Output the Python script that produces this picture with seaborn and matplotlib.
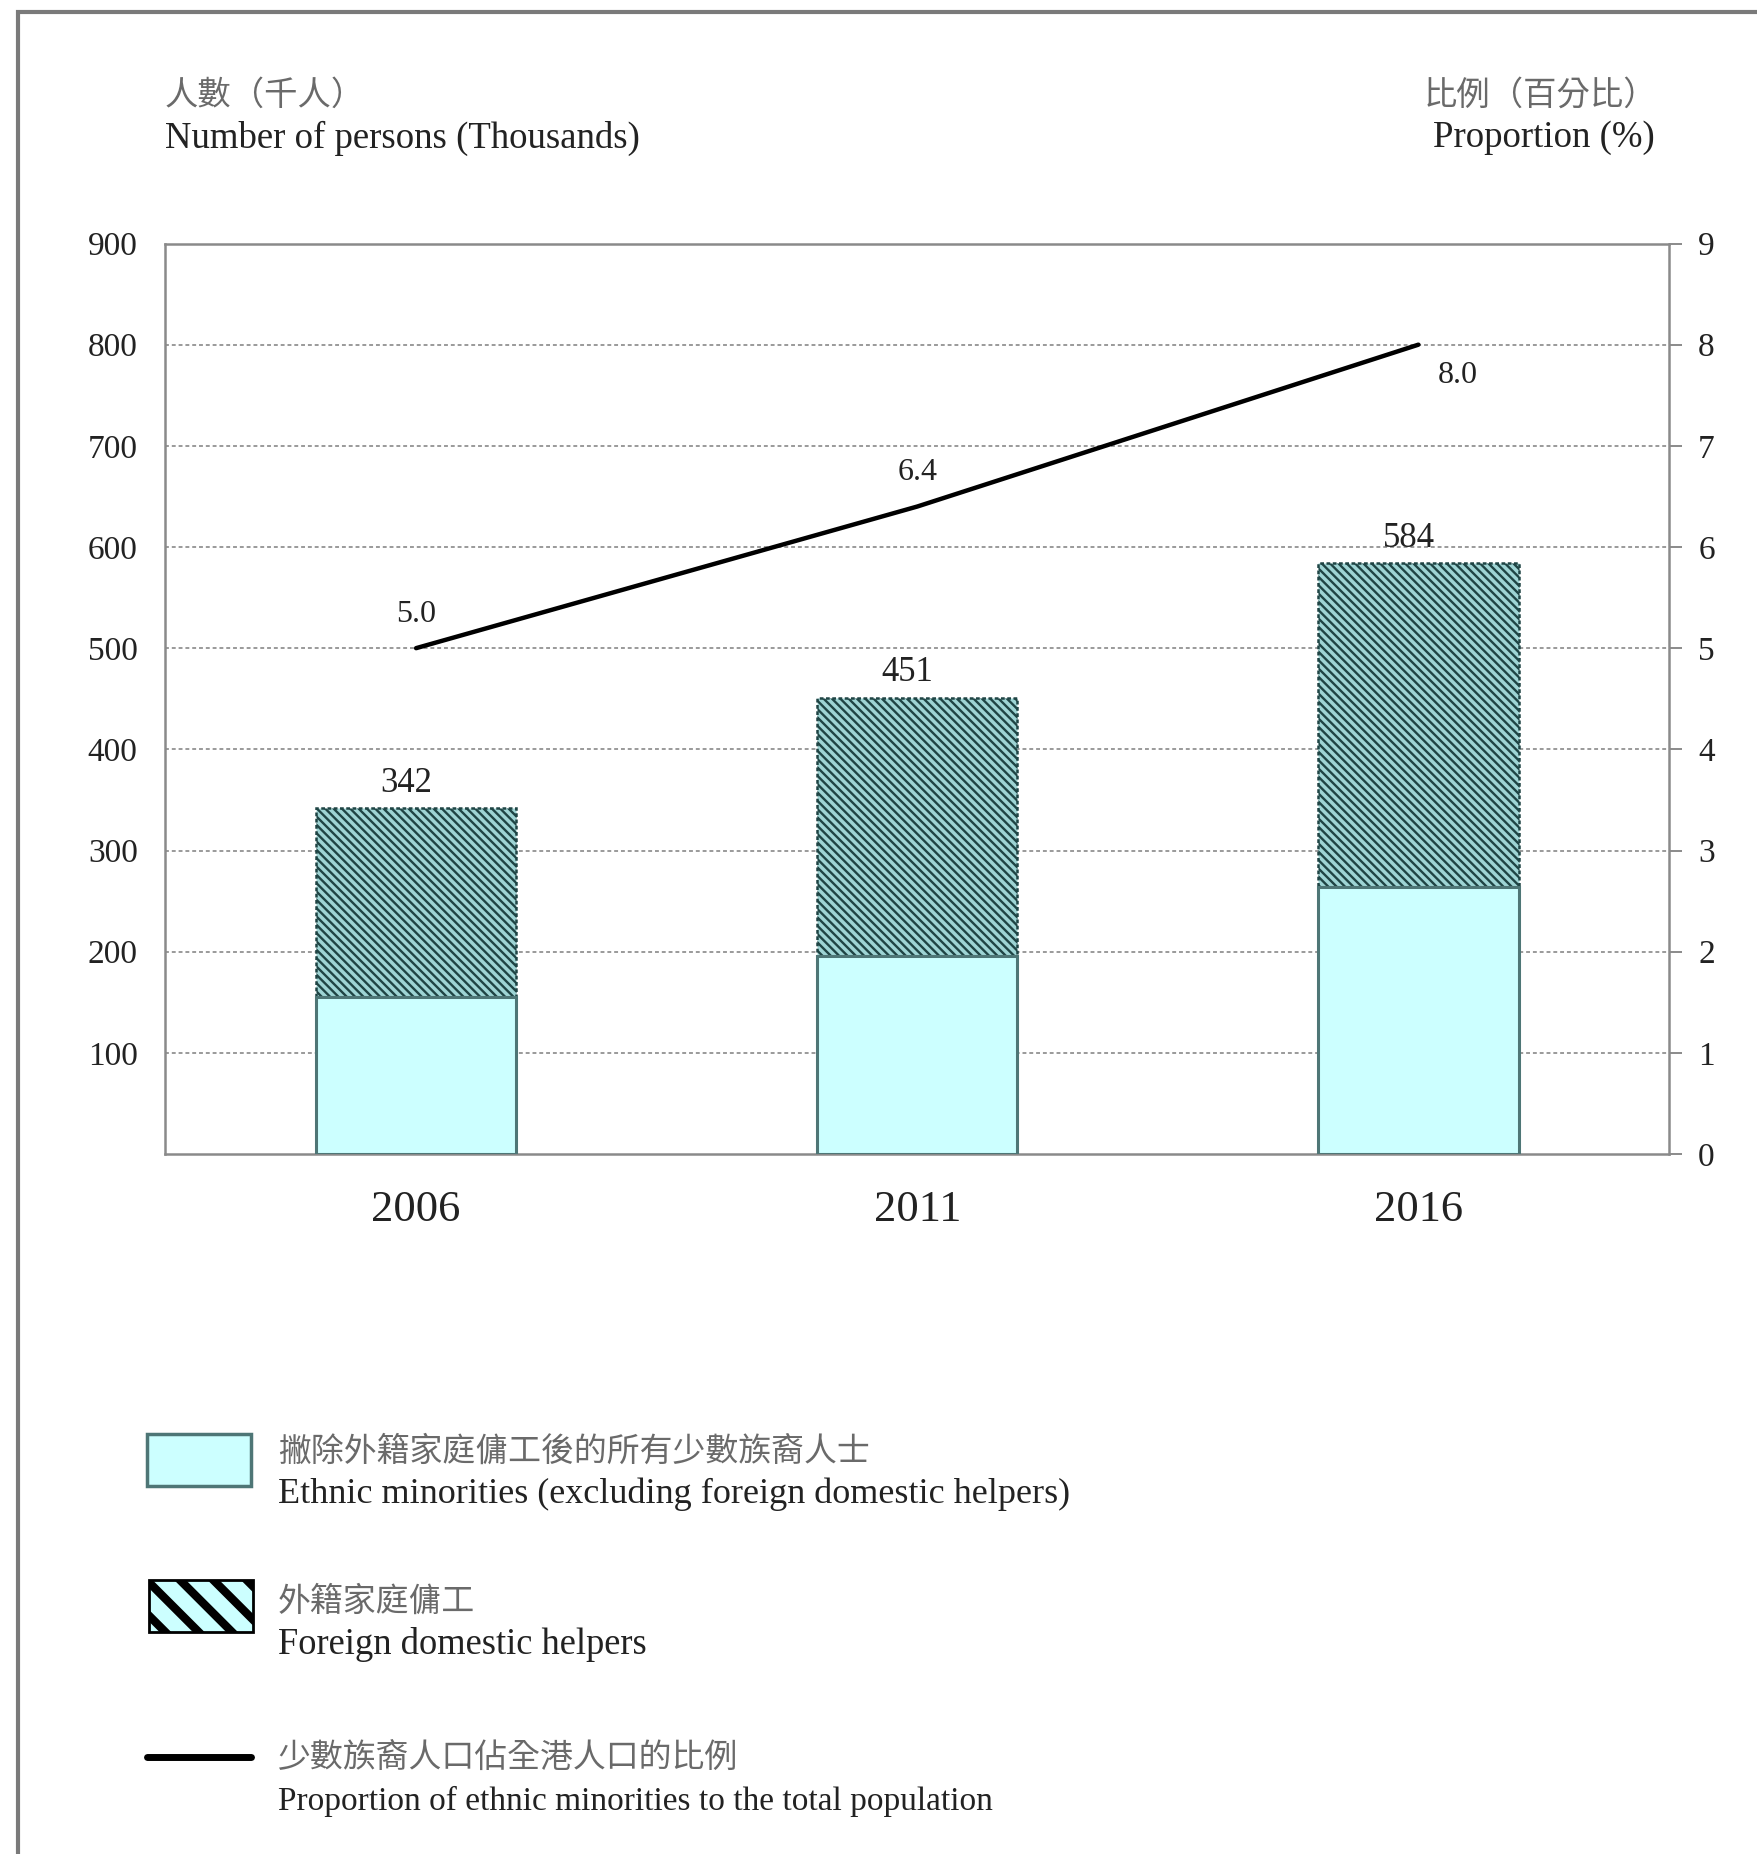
import numpy as np
import pandas as pd
import matplotlib
matplotlib.use("Agg")
import matplotlib.pyplot as plt
import seaborn as sns
from matplotlib.patches import Rectangle
from matplotlib.lines import Line2D

# ---------------- data ----------------
years = ["2006", "2011", "2016"]
em_excl_fdh = [155, 196, 264]          # ethnic minorities excluding FDH (thousands)
em_total = [342, 451, 584]             # total ethnic minorities (thousands)
proportion = [5.0, 6.4, 8.0]           # % of total population
left_ticks = [100, 200, 300, 400, 500, 600, 700, 800, 900]
right_ticks = [0, 1, 2, 3, 4, 5, 6, 7, 8, 9]

ylabel_left_zh = "人數（千人）"
ylabel_left_en = "Number of persons (Thousands)"
ylabel_right_zh = "比例（百分比）"
ylabel_right_en = "Proportion (%)"
legend_zh = ["撇除外籍家庭傭工後的所有少數族裔人士", "外籍家庭傭工", "少數族裔人口佔全港人口的比例"]
legend_en = ["Ethnic minorities (excluding foreign domestic helpers)",
             "Foreign domestic helpers",
             "Proportion of ethnic minorities to the total population"]

sns.set_theme(style="white")
plt.rcParams["font.family"] = ["Liberation Serif", "Noto Sans CJK TC"]
plt.rcParams["hatch.linewidth"] = 1.7

W, H, DPI = 1758, 1854, 100
fig = plt.figure(figsize=(W / DPI, H / DPI), dpi=DPI)
fig.patch.set_facecolor("white")

def fx(px):
    return px / W

def fy(py):
    return 1 - py / H

ZH = dict(family=["Noto Sans CJK TC"], color="#6a6a6a", fontweight="light")
EN_COLOR = "#222222"

# page border
fig.add_artist(Rectangle((fx(18), fy(1900)), fx(1800), fy(12) - fy(1900),
                         transform=fig.transFigure, fill=False,
                         edgecolor="#7a7a7a", linewidth=3))

ax_l, ax_r, ax_t, ax_b = 165.5, 1669, 243.5, 1154
ax = fig.add_axes([fx(ax_l), fy(ax_b), fx(ax_r - ax_l), fy(ax_t) - fy(ax_b)])

df = pd.DataFrame({"year": years, "excl": em_excl_fdh, "total": em_total, "prop": proportion})

FILL = "#CCFFFF"
# total bar (hatched, top portion = foreign domestic helpers)
sns.barplot(data=df, x="year", y="total", ax=ax, width=0.4, color="#9ED4D4",
            saturation=1, hatch=r"\\\\", edgecolor="#1F4444", linewidth=1.8,
            linestyle=(0, (1.5, 1.0)), zorder=3)
# lower portion
sns.barplot(data=df, x="year", y="excl", ax=ax, width=0.4, color=FILL,
            saturation=1, edgecolor="#4E7676", linewidth=2.2, zorder=4)

ax.set_xlim(-0.5, 2.5)
ax.set_ylim(0, 900)
ax.set_yticks(left_ticks)
ax.set_yticklabels([str(t) for t in left_ticks], fontsize=24, color=EN_COLOR)
ax.set_xticks(range(len(years)))
ax.set_xticklabels(years, fontsize=32, color=EN_COLOR)
ax.tick_params(axis="y", length=0, pad=20)
ax.tick_params(axis="x", length=0, pad=26)
ax.set_xlabel("")
ax.set_ylabel("")
ax.grid(axis="y", linestyle=(0, (2.0, 1.5)), color="#9a9a9a", linewidth=1.4, zorder=0)
ax.set_axisbelow(True)
for s in ax.spines.values():
    s.set_color("#8a8a8a")
    s.set_linewidth(1.8)

# value labels on bars
for i, v in enumerate(em_total):
    ax.annotate(str(v), (i, v), xytext=(-7, 6), textcoords="offset points",
                ha="center", va="bottom", fontsize=25, color=EN_COLOR)

# proportion line on right axis
ax2 = ax.twinx()
sns.lineplot(x=list(range(len(years))), y=proportion, ax=ax2, color="black",
             linewidth=3.2, zorder=5)
ax2.set_ylim(0, 9)
ax2.set_yticks(right_ticks)
ax2.set_yticklabels([str(t) for t in right_ticks], fontsize=24, color=EN_COLOR)
ax2.tick_params(axis="y", length=9, width=1.4, color="#8a8a8a", pad=12, direction="out")
ax2.grid(False)
for s in ax2.spines.values():
    s.set_visible(False)

offsets = [(0, 14), (0, 14), (28, -12)]
vas = ["bottom", "bottom", "top"]
for i, (p, off, va) in enumerate(zip(proportion, offsets, vas)):
    ax2.annotate(f"{p:.1f}", (i, p), xytext=off, textcoords="offset points",
                 ha="center", va=va, fontsize=23, color=EN_COLOR)

# axis titles
fig.text(fx(165), fy(95), ylabel_left_zh, fontsize=24, va="center", ha="left", **ZH)
fig.text(fx(165), fy(138), ylabel_left_en, fontsize=26.5, va="center", ha="left", color=EN_COLOR)
fig.text(fx(1657), fy(95), ylabel_right_zh, fontsize=24, va="center", ha="right", **ZH)
fig.text(fx(1655), fy(138), ylabel_right_en, fontsize=26.5, va="center", ha="right", color=EN_COLOR)

# legend (drawn manually below the chart)
lg1 = Rectangle((fx(147), fy(1486)), fx(104), fy(1434) - fy(1486), transform=fig.transFigure,
                facecolor=FILL, edgecolor="#4E7676", linewidth=2.5)
fig.add_artist(lg1)
with plt.rc_context({"hatch.linewidth": 6.0}):
    lg2 = Rectangle((fx(149), fy(1632)), fx(104), fy(1580) - fy(1632), transform=fig.transFigure,
                    facecolor=FILL, edgecolor="black", linewidth=2.0, hatch="\\")
    fig.add_artist(lg2)
fig.add_artist(Line2D([fx(147), fx(251)], [fy(1757), fy(1757)], transform=fig.transFigure,
                      color="black", linewidth=5))

zh_y = [1452, 1602, 1758]
en_y = [1494, 1645, 1801]
en_sizes = [26, 26.3, 24]
for zh, en, zy, ey, fs in zip(legend_zh, legend_en, zh_y, en_y, en_sizes):
    fig.text(fx(278), fy(zy), zh, fontsize=23.7, va="center", ha="left", **ZH)
    fig.text(fx(278), fy(ey), en, fontsize=fs, va="center", ha="left", color=EN_COLOR)

fig.savefig("out.png", dpi=DPI)
